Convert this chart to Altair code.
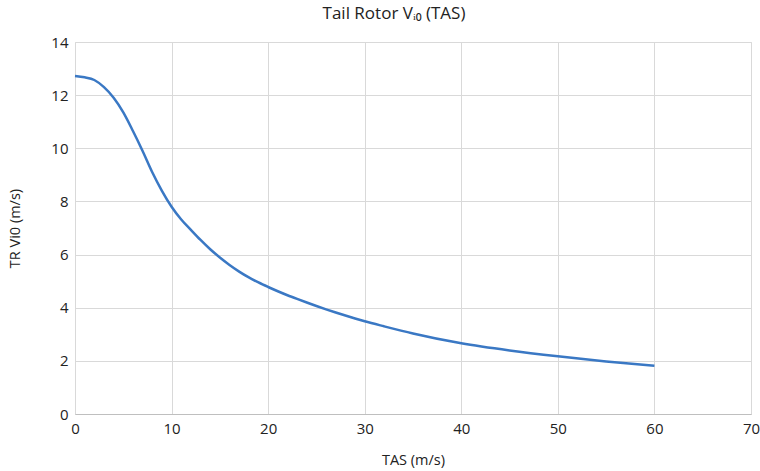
import altair as alt
import pandas as pd

tas = [0, 1, 2, 3, 4, 5, 6, 7, 8, 9, 10, 11, 12, 13, 14, 15, 16, 17, 18, 19, 20,
       21, 22, 23, 24, 25, 26, 27, 28, 29, 30, 32, 35, 40, 45, 50, 55, 60]
vi0 = [12.72, 12.67, 12.57, 12.3, 11.9, 11.35, 10.65, 9.9, 9.1, 8.4, 7.8, 7.32, 6.93, 6.55, 6.2,
       5.89, 5.61, 5.36, 5.14, 4.95, 4.78,
       4.62, 4.47, 4.33, 4.195, 4.065, 3.94, 3.82, 3.705, 3.595, 3.49, 3.3, 3.03, 2.66, 2.39,
       2.17, 1.98, 1.82]

df = pd.DataFrame({"TAS": tas, "Vi0": vi0})

FONT = "Open Sans"
TXT = "#222222"

chart = alt.Chart(df).mark_line(color="#3a78c4", strokeWidth=2.5, interpolate="monotone").encode(
    x=alt.X("TAS:Q", scale=alt.Scale(domain=[0, 70], nice=False),
            axis=alt.Axis(title="TAS (m/s)", values=list(range(0, 71, 10)), ticks=False,
                          labelFlush=False, labelOverlap=False,
                          domain=True, domainColor="#bfbfbf", domainWidth=1,
                          gridColor="#d9d9d9", labelPadding=7, labelFontSize=15,
                          titleFontSize=14.5, titleFontWeight="normal", titleY=46,
                          titleBaseline="middle", titleColor=TXT, labelColor=TXT,
                          labelFont=FONT, titleFont=FONT)),
    y=alt.Y("Vi0:Q", scale=alt.Scale(domain=[0, 14], nice=False),
            axis=alt.Axis(title="TR Vi0 (m/s)", values=list(range(0, 15, 2)), ticks=False,
                          labelFlush=False, labelOverlap=False,
                          domain=False, gridColor="#d9d9d9", labelPadding=7, labelFontSize=15,
                          titleFontSize=14.5, titleFontWeight="normal", titleX=-60, titleY=186,
                          titleAngle=-90, titleAlign="center", titleBaseline="middle",
                          titleColor=TXT, labelColor=TXT,
                          labelFont=FONT, titleFont=FONT)),
).properties(
    width=676, height=372,
    title=alt.TitleParams("Tail Rotor Vᵢ₀ (TAS)", font=FONT, fontSize=17, fontWeight="normal",
                          color=TXT, anchor="middle", offset=12, dx=-19),
    autosize=alt.AutoSizeParams(type="none"),
    padding={"left": 75, "top": 42, "right": 9, "bottom": 57},
).configure_view(stroke=None).configure(background="white")

chart.save("out.html", embed_options={"renderer": "svg", "actions": False})
